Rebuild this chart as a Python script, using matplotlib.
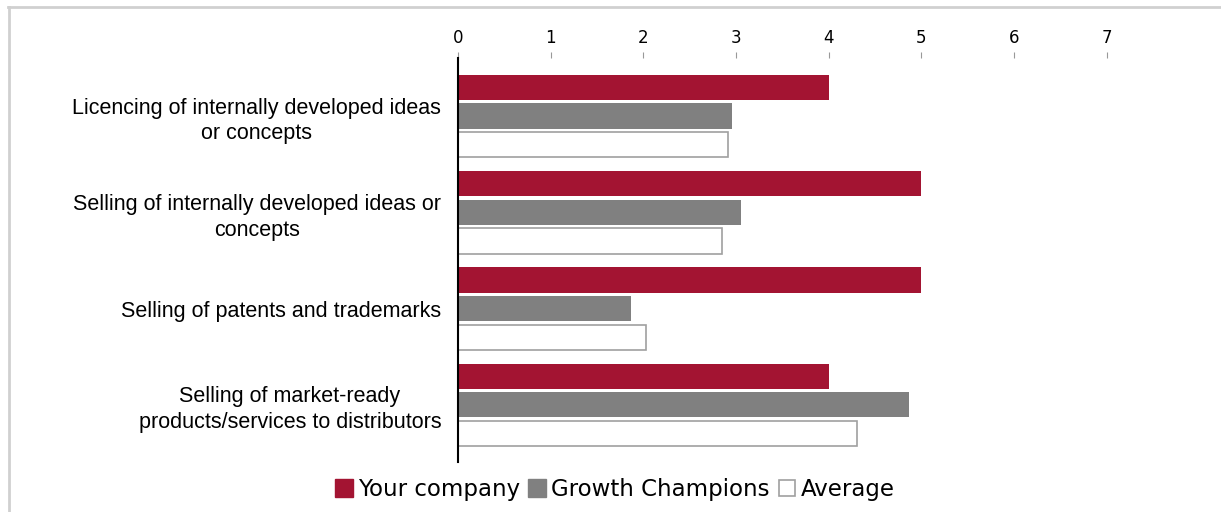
import matplotlib.pyplot as plt
import numpy as np
from matplotlib.lines import Line2D

categories = [
    "Licencing of internally developed ideas\nor concepts",
    "Selling of internally developed ideas or\nconcepts",
    "Selling of patents and trademarks",
    "Selling of market-ready\nproducts/services to distributors",
]
your_company = [4.0, 5.0, 5.0, 4.0]
growth_champions = [2.96, 3.05, 1.87, 4.87]
average = [2.91, 2.85, 2.03, 4.31]
series_names = ["Your company", "Growth Champions", "Average"]

RED = "#a31432"
GREY = "#808080"
EDGE = "#a0a0a0"

fig = plt.figure(figsize=(12.21, 5.12), dpi=100)
ax = fig.add_axes([0.3751, 0.0977, 0.607, 0.7891])

y = np.arange(len(categories))
step = 0.297
height = 0.262
ax.barh(y - step, your_company, height=height, color=RED, linewidth=0)
ax.barh(y, growth_champions, height=height, color=GREY, linewidth=0)
ax.barh(y + step, average, height=height, color="white", edgecolor=EDGE, linewidth=1.2)

ax.set_xlim(0, 8)
ax.set_ylim(len(categories) - 1 + 0.594, -0.604)
ax.set_xticks(range(8))
ax.xaxis.tick_top()
ax.tick_params(axis="x", direction="out", length=4, width=0.8, color="#999999",
               pad=4, labelsize=12, labelcolor="black")
ax.set_yticks(y)
ax.set_yticklabels(categories, fontfamily="Liberation Sans", fontsize=15.5,
                   multialignment="center", linespacing=1.3)
ax.tick_params(axis="y", length=0, pad=12)

for side in ["top", "right", "bottom"]:
    ax.spines[side].set_visible(False)
ax.spines["left"].set_color("black")
ax.spines["left"].set_linewidth(1.5)

handles = [
    Line2D([], [], marker="s", linestyle="none", markersize=13,
           markerfacecolor=RED, markeredgecolor=RED),
    Line2D([], [], marker="s", linestyle="none", markersize=13,
           markerfacecolor=GREY, markeredgecolor=GREY),
    Line2D([], [], marker="s", linestyle="none", markersize=12,
           markerfacecolor="white", markeredgecolor=EDGE, markeredgewidth=1.2),
]
fig.legend(handles, series_names, loc="center", bbox_to_anchor=(0.504, 0.043),
           ncol=3, frameon=False, fontsize=16.5, handlelength=0.7,
           handletextpad=0.25, columnspacing=0.4, borderaxespad=0)

# thin frame along the top and left edges
fig.add_artist(Line2D([0.0074, 0.0074], [0, 0.986], transform=fig.transFigure,
                      color="#d0d0d0", linewidth=2))
fig.add_artist(Line2D([0.0066, 1.0], [0.986, 0.986], transform=fig.transFigure,
                      color="#d0d0d0", linewidth=2))

fig.savefig("out.png", dpi=100)
